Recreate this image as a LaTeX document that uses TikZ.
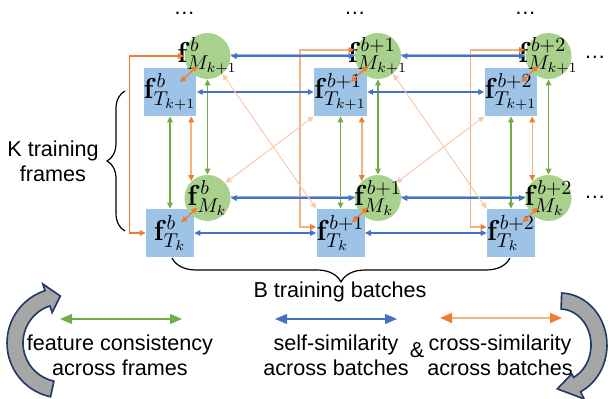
\documentclass[tikz,border=0pt]{standalone}
\usepackage[no-math]{fontspec}
\setmainfont{Liberation Sans}
\usetikzlibrary{arrows.meta,calc,decorations.pathreplacing}

\definecolor{sqblue}{HTML}{9DC3E6}
\definecolor{circgreen}{HTML}{A9D18E}
\definecolor{featgreen}{HTML}{70AD47}
\definecolor{selfblue}{HTML}{4472C4}
\definecolor{selflight}{HTML}{9DB5E0}
\definecolor{crossorange}{HTML}{ED7D31}
\definecolor{crosslight}{HTML}{F4B183}
\definecolor{crosspale}{HTML}{F8CBAD}
\definecolor{loopgray}{HTML}{A6A6A6}
\definecolor{loopnavy}{HTML}{1F3864}

\tikzset{
	sqnode/.style={rectangle, fill=sqblue, minimum size=24pt, inner sep=0pt, font=\fontsize{14.4}{16}\selectfont},
	mnode/.style={circle, fill=circgreen, minimum size=23pt, inner sep=0pt},
	mtext/.style={font=\fontsize{14.4}{16}\selectfont, inner sep=0pt},
	featarr/.style={draw=featgreen, line width=0.65pt, <->},
	selfarr/.style={draw=selfblue, line width=0.65pt, <->},
	crossarr/.style={draw=crossorange, line width=0.65pt, <->},
	crosssoft/.style={draw=crosslight, line width=0.75pt,
		{Triangle[length=3pt,width=2.8pt,color=crossorange]}-{Triangle[length=3pt,width=2.8pt,color=crossorange]}},
	crossfaint/.style={draw=crosspale, line width=0.5pt, <->},
	bigtips/.style={>={Triangle[length=6pt,width=5pt]}},
	lbl/.style={align=center, inner sep=0pt},
	loopshape/.style={fill=loopgray, draw=loopnavy, line width=0.8pt},
}

\begin{document}
\begin{tikzpicture}[x=0.5pt, y=-0.5pt, font=\fontsize{10.8}{12.5}\selectfont,
		>={Triangle[length=3pt,width=2.8pt]}]
	\useasboundingbox (0,0) rectangle (610,399);

	% one column per batch
	\foreach \col/\s in {0/b, 1/b+1, 2/b+2} {
		\node[sqnode] (Ttop\col) at (170+170.5*\col, 92) {$\mathbf{f}^{\s}_{T_{k+1}}$};
		\node[sqnode] (Tbot\col) at (170+170.5*\col, 233) {$\mathbf{f}^{\s}_{T_{k}}$};
		\node[mnode, label={[mtext]center:{$\mathbf{f}^{\s}_{M_{k+1}}$}}] (Mtop\col) at (207.5+170.5*\col, 56) {};
		\node[mnode, label={[mtext]center:{$\mathbf{f}^{\s}_{M_{k}}$}}] (Mbot\col) at (207.5+170.5*\col, 198) {};
		\node[lbl, anchor=base] (dots\col) at (184.5+170.5*\col, 15) {\dots};
	}
	\node[lbl, anchor=base] (dotsR1) at (595, 59) {\dots};
	\node[lbl, anchor=base] (dotsR0) at (595, 199) {\dots};

	\foreach \col/\dy/\lp in {0/0/crossarr, 1/-6/crosssoft, 2/-6/crosssoft} {
		\draw[featarr] (Ttop\col) -- (Tbot\col);
		\draw[featarr] (Mtop\col) -- (Mbot\col);
		\draw[crossarr] ($(Ttop\col)!0.27!(Mtop\col)$) -- ($(Mtop\col)!0.27!(Ttop\col)$);
		\draw[crossarr] ($(Tbot\col)!0.3!(Mbot\col)$) -- ($(Mbot\col)!0.27!(Tbot\col)$);
		\draw[crosssoft] (Ttop\col.south -| Mbot\col.134) -- (Mbot\col.134);
		\draw[\lp] ($(Mtop\col.west)+(0,\dy)$) -| ($(Tbot\col.west)+(-16,\dy)$) -- ($(Tbot\col.west)+(0,\dy)$);
	}

	\foreach \col/\nx in {0/1, 1/2} {
		\draw[selflight, line width=1.1pt, transform canvas={yshift=0.6pt}] (Mtop\col) -- (Mtop\nx);
		\draw[selflight, line width=1.1pt, transform canvas={yshift=0.6pt}] (Mbot\col) -- (Mbot\nx);
		\draw[selfarr] (Mtop\col) -- (Mtop\nx);
		\draw[selfarr] (Mbot\col) -- (Mbot\nx);
		\draw[selfarr] (Ttop\col) -- (Ttop\nx);
		\draw[selfarr] (Tbot\col) -- (Tbot\nx);
		\draw[crossfaint] (Mbot\col.40) -- (Ttop\nx.south west);
		\draw[crossfaint] (Mtop\col.-50) -- (Tbot\nx.north west);
	}

	\draw[line width=0.6pt, decorate, decoration={brace, amplitude=9pt}] (125,231) -- (125,91);
	\node[lbl] (kframes) at (53,161) {K training\\frames};
	\draw[line width=0.6pt, decorate, decoration={brace, amplitude=12pt}] (510,258) -- (172,258);
	\node[lbl] (bbatches) at (340,292) {B training batches};

	% legend
	\coordinate (featL) at (60,319);
	\coordinate (featR) at (182,319);
	\coordinate (selfL) at (275,319);
	\coordinate (selfR) at (397,319);
	\coordinate (crossL) at (440,318);
	\coordinate (crossR) at (562,318);
	\draw[featarr, bigtips] (featL) -- (featR);
	\draw[selfarr, bigtips] (selfL) -- (selfR);
	\draw[crosssoft, line width=0.9pt,
		{Triangle[length=6pt,width=5pt,color=crossorange]}-{Triangle[length=6pt,width=5pt,color=crossorange]}] (crossL) -- (crossR);
	\node[lbl] (featlbl) at (120,355) {feature consistency\\across frames};
	\node[lbl] (selflbl) at (336,355) {self-similarity\\across batches};
	\node[lbl] (amp) at (417,350) {\&};
	\node[lbl] (crosslbl) at (500,355) {cross-similarity\\across batches};

	% curved arrows at the sides
	\coordinate (lc) at (62,343);
	\filldraw[loopshape] ($(lc)+(102:55)$) arc[start angle=102, end angle=252, radius=55]
		-- ($(lc)+(252:62)$) -- ($(lc)+(268:47)$) -- ($(lc)+(252:32)$)
		-- ($(lc)+(252:39)$) arc[start angle=252, end angle=102, radius=39] -- cycle;
	\coordinate (rc) at (560,345);
	\filldraw[loopshape] ($(rc)+(272:47 and 52)$) arc[start angle=272, end angle=424, x radius=47, y radius=52]
		-- ($(rc)+(424:55 and 60)$) -- ($(rc)+(454:39 and 44)$) -- ($(rc)+(424:27 and 32)$)
		-- ($(rc)+(424:31 and 36)$) arc[start angle=424, end angle=272, x radius=31, y radius=36] -- cycle;
\end{tikzpicture}
\end{document}
